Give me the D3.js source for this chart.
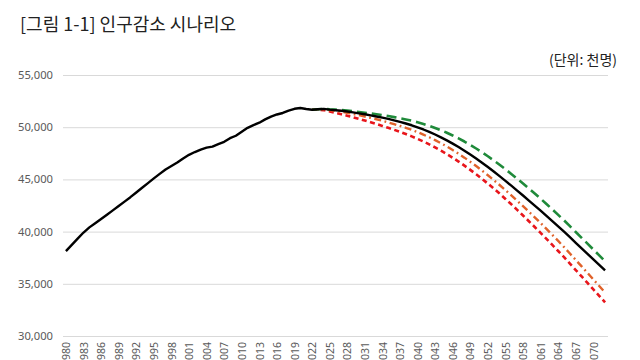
<!DOCTYPE html>
<html><head><meta charset="utf-8">
<script src="https://cdn.jsdelivr.net/npm/d3@7"></script>
<style>body{margin:0;background:#fff}svg{display:block}</style>
</head><body>
<svg id="c" width="640" height="360"></svg>
<script>
const years = d3.range(1980, 2073);
const yTicks = [30000, 35000, 40000, 45000, 50000, 55000];
const projYears = d3.range(2022, 2073);
const histValues = [38124,38723,39326,39910,40406,40806,41214,41622,42031,42449,
  42869,43296,43748,44195,44642,45093,45525,45954,46287,46617,
  47008,47357,47622,47859,48039,48138,48372,48598,48949,49182,
  49554,49937,50200,50429,50747,51015,51218,51362,51585,51765,
  51836,51745];
const mediumValues = [51673,51713,51751,51684,51630,51570,51500,51420,51330,51235,
  51135,51030,50915,50790,50655,50510,50355,50185,49990,49780,
  49550,49300,49030,48740,48430,48100,47750,47380,46995,46595,
  46180,45750,45310,44860,44400,43930,43455,42975,42490,42000,
  41505,41005,40500,39990,39460,38930,38400,37870,37340,36810,36280];
const highValues = [51673,51718,51761,51714,51680,51640,51590,51530,51460,51390,
  51315,51240,51155,51065,50965,50860,50745,50620,50470,50310,
  50130,49930,49710,49470,49210,48930,48630,48305,47960,47595,
  47215,46815,46400,45970,45525,45070,44605,44130,43645,43150,
  42645,42130,41605,41075,40520,39965,39405,38845,38285,37725,37165];
const lowMidValues = [51673,51703,51726,51639,51560,51475,51380,51270,51150,51025,
  50895,50760,50615,50460,50295,50120,49940,49745,49525,49290,
  49035,48760,48465,48150,47815,47460,47085,46690,46275,45845,
  45400,44935,44460,43970,43470,42955,42435,41905,41370,40825,
  40255,39685,39105,38515,37900,37285,36665,36040,35415,34790,34160];
const lowValues = [51673,51665,51640,51500,51375,51245,51105,50955,50795,50635,
  50470,50300,50125,49940,49750,49550,49340,49120,48880,48625,
  48355,48065,47755,47425,47075,46710,46320,45915,45490,45050,
  44595,44125,43640,43130,42615,42085,41545,40995,40440,39875,
  39305,38725,38140,37550,36930,36315,35700,35085,34465,33845,33220];
const xLabelYears = d3.range(1980, 2073, 3);

const svg = d3.select("#c");
const x = d3.scalePoint().domain(years).range([63, 608]).padding(0.5);
const y = d3.scaleLinear().domain([30000, 55000]).range([336, 75]);

svg.append("text").attr("x", 20).attr("y", 31)
  .attr("font-family", "'Noto Sans CJK KR', 'Noto Sans', sans-serif")
  .attr("font-size", 18).attr("fill", "#222")
  .text("[그림 1-1] 인구감소 시나리오");
svg.append("text").attr("x", 617).attr("y", 65).attr("text-anchor", "end")
  .attr("font-family", "'Noto Sans CJK KR', 'Noto Sans', sans-serif")
  .attr("font-size", 14).attr("fill", "#222")
  .text("(단위: 천명)");

// y gridlines & labels
const yAxis = d3.axisLeft(y).tickValues(yTicks).tickSize(-545)
  .tickFormat(d3.format(",")).tickPadding(10);
const gy = svg.append("g").attr("transform", "translate(63,0)").call(yAxis);
gy.select(".domain").remove();
gy.selectAll(".tick line").attr("stroke", "#d9d9d9").attr("stroke-width", 1);
gy.selectAll(".tick text").attr("font-family", "'Noto Sans', sans-serif")
  .attr("font-size", 11.2).attr("fill", "#595959");

// x labels
const xAxis = d3.axisBottom(x).tickValues(xLabelYears).tickSize(0).tickPadding(0);
const gx = svg.append("g").attr("transform", "translate(0,336)").call(xAxis);
gx.select(".domain").remove();
gx.selectAll(".tick text")
  .attr("font-family", "'Noto Sans', sans-serif").attr("font-size", 10.5).attr("fill", "#595959")
  .attr("transform", "rotate(-90)").attr("text-anchor", "end")
  .attr("x", -6).attr("y", 0).attr("dy", "0.35em");

const line = d3.line().x(d => x(d[0])).y(d => y(d[1]));
const hist = years.slice(0, histValues.length).map((yr, i) => [yr, histValues[i]]);
const mk = vals => projYears.map((yr, i) => [yr, vals[i]]);

const series = [
  {data: mk(lowValues), color: "#e8151b", dash: "5,3.5", w: 2.6},
  {data: mk(lowMidValues), color: "#e0622a", dash: "7,3.5,1.8,3.5", w: 2.4},
  {data: mk(highValues), color: "#1f8a3a", dash: "10,5", w: 2.6},
  {data: hist.concat(mk(mediumValues)), color: "#000", dash: null, w: 2.4}
];
series.forEach(s => {
  svg.append("path").datum(s.data).attr("d", line)
    .attr("fill", "none").attr("stroke", s.color).attr("stroke-width", s.w)
    .attr("stroke-dasharray", s.dash).attr("stroke-linejoin", "round");
});
</script>
</body></html>
